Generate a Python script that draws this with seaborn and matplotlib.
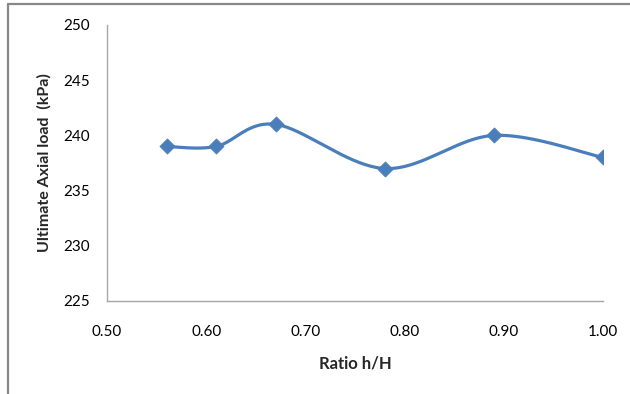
import numpy as np
import pandas as pd
import matplotlib
matplotlib.use("Agg")
import matplotlib.pyplot as plt
import seaborn as sns
from matplotlib.lines import Line2D

ratio = [0.56, 0.61, 0.67, 0.78, 0.89, 1.00]
load = [239, 239, 241, 237, 240, 238]
x_ticks = [0.50, 0.60, 0.70, 0.80, 0.90, 1.00]
y_ticks = [225, 230, 235, 240, 245, 250]

sns.set_style("white")
plt.rcParams['font.family'] = ['Lato', 'DejaVu Sans']

df = pd.DataFrame({"ratio": ratio, "load": load})

# Excel-style smoothed line (Catmull-Rom Bezier through the points)
def smooth(xs, ys, n=40):
    P = np.column_stack([xs, ys]).astype(float)
    out = []
    for i in range(len(P) - 1):
        p0 = P[i - 1] if i > 0 else P[i]
        p1 = P[i]
        p2 = P[i + 1]
        p3 = P[i + 2] if i + 2 < len(P) else P[i + 1]
        c1 = p1 + (p2 - p0) / 6.0
        c2 = p2 - (p3 - p1) / 6.0
        t = np.linspace(0, 1, n)[:, None]
        seg = ((1 - t) ** 3) * p1 + 3 * ((1 - t) ** 2) * t * c1 + 3 * (1 - t) * t ** 2 * c2 + t ** 3 * p2
        out.append(seg if i == 0 else seg[1:])
    return np.vstack(out)

curve = smooth(df["ratio"].values, df["load"].values)
cdf = pd.DataFrame({"ratio": curve[:, 0], "load": curve[:, 1]})

fig = plt.figure(figsize=(6.3, 3.94), dpi=100)
ax = fig.add_axes([107 / 630, 93 / 394, 496 / 630, 276 / 394])

color = "#4A7EBB"
sns.lineplot(data=cdf, x="ratio", y="load", ax=ax, color=color, linewidth=2.3,
             sort=False, estimator=None)
sns.scatterplot(data=df, x="ratio", y="load", ax=ax, color=color, marker="D",
                s=60, edgecolor=color, linewidth=0.5, zorder=5)

ax.set_xlim(0.50, 1.00)
ax.set_ylim(225, 250)
ax.set_xticks(x_ticks)
ax.set_xticklabels([f"{v:.2f}" for v in x_ticks])
ax.set_yticks(y_ticks)
ax.set_yticklabels([str(v) for v in y_ticks])
ax.tick_params(axis="both", length=0, labelsize=11, colors="#000000")
ax.tick_params(axis="y", pad=12)
ax.tick_params(axis="x", pad=17)

for s in ["top", "right"]:
    ax.spines[s].set_visible(False)
for s in ["left", "bottom"]:
    ax.spines[s].set_color("#A6A6A6")
    ax.spines[s].set_linewidth(1.0)

ax.set_xlabel("Ratio h/H", fontsize=12, fontweight="bold", labelpad=12)
ax.set_ylabel("Ultimate Axial load  (kPa)", fontsize=11.5, fontweight="bold", labelpad=9)

# chart area border (left and top edges visible)
fig.add_artist(Line2D([8 / 630, 8 / 630], [0, 1 - 4 / 394], transform=fig.transFigure,
                      color="#888888", linewidth=1.6))
fig.add_artist(Line2D([8 / 630, 1], [1 - 4 / 394, 1 - 4 / 394], transform=fig.transFigure,
                      color="#888888", linewidth=1.6))

fig.savefig("out.png", dpi=100)
